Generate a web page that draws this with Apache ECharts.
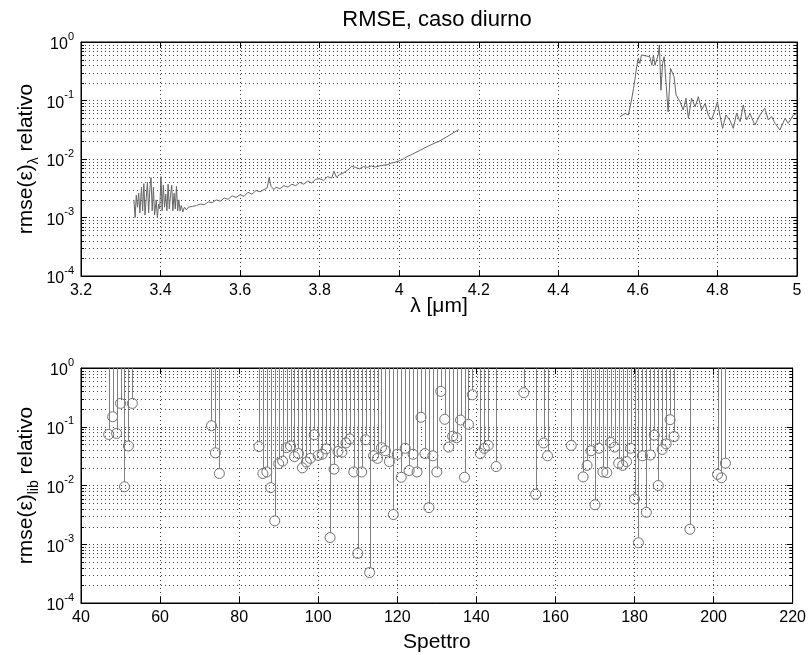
<!DOCTYPE html>
<html>
<head>
<meta charset="utf-8">
<script src="https://cdn.jsdelivr.net/npm/echarts@6/dist/echarts.min.js"></script>
<style>
html,body{margin:0;padding:0;background:#fff;}
#chart{width:809px;height:655px;}
</style>
</head>
<body>
<div id="chart"></div>
<script>
// ---- top panel: rmse per wavelength (two spectral windows) ----
const lambda1 = [3.333,3.336,3.339,3.342,3.345,3.348,3.352,3.355,3.358,3.361,3.364,3.367,3.370,3.373,3.376,3.379,3.382,3.385,3.389,3.392,3.395,3.398,3.401,3.404,3.407,3.410,3.413,3.416,3.419,3.422,3.425,3.428,3.431,3.434,3.437,3.440,3.443,3.446,3.449,3.452,3.456,3.460,3.465,3.470,3.475,3.480,3.485,3.490,3.495,3.500,3.510,3.520,3.530,3.540,3.550,3.560,3.570,3.580,3.590,3.600,3.610,3.620,3.630,3.640,3.650,3.660,3.668,3.673,3.678,3.685,3.690,3.700,3.710,3.720,3.730,3.740,3.750,3.760,3.770,3.780,3.790,3.800,3.810,3.820,3.830,3.836,3.842,3.850,3.860,3.870,3.880,3.885,3.890,3.900,3.910,3.920,3.930,3.940,3.950,3.960,3.970,3.980,3.990,4.000,4.010,4.020,4.030,4.040,4.050,4.060,4.070,4.080,4.090,4.100,4.110,4.120,4.130,4.140,4.150];
const rmse1 = [2.0e-3,1.0e-3,2.4e-3,1.5e-3,2.6e-3,1.2e-3,3.3e-3,1.3e-3,3.8e-3,1.1e-3,2.2e-3,4.0e-3,1.2e-3,3.0e-3,4.8e-3,1.3e-3,3.3e-3,1.1e-3,2.0e-3,1.0e-3,1.7e-3,1.4e-3,5.0e-3,1.3e-3,3.6e-3,1.5e-3,2.5e-3,1.3e-3,3.7e-3,1.4e-3,2.4e-3,3.6e-3,1.3e-3,2.6e-3,1.4e-3,3.4e-3,1.3e-3,2.0e-3,1.3e-3,1.6e-3,1.25e-3,1.5e-3,1.35e-3,1.5e-3,1.4e-3,1.55e-3,1.45e-3,1.6e-3,1.5e-3,1.7e-3,1.65e-3,1.85e-3,1.8e-3,2.0e-3,1.9e-3,2.15e-3,2.05e-3,2.35e-3,2.2e-3,2.45e-3,2.3e-3,2.7e-3,2.5e-3,2.9e-3,2.75e-3,3.0e-3,3.2e-3,4.8e-3,3.4e-3,3.0e-3,3.3e-3,3.1e-3,3.5e-3,3.3e-3,3.7e-3,3.5e-3,4.0e-3,3.7e-3,4.2e-3,3.9e-3,4.5e-3,4.6e-3,4.3e-3,5.0e-3,4.7e-3,6.2e-3,4.9e-3,5.4e-3,5.8e-3,6.4e-3,7.5e-3,8.0e-3,7.2e-3,6.8e-3,7.4e-3,7.2e-3,7.6e-3,7.3e-3,7.6e-3,7.8e-3,8.0e-3,8.5e-3,8.8e-3,9.3e-3,1.0e-2,1.1e-2,1.18e-2,1.28e-2,1.38e-2,1.5e-2,1.62e-2,1.75e-2,1.88e-2,2.0e-2,2.2e-2,2.4e-2,2.65e-2,2.9e-2,3.2e-2];
const lambda2 = [4.555,4.568,4.576,4.584,4.589,4.593,4.597,4.601,4.605,4.609,4.630,4.635,4.639,4.643,4.651,4.654,4.658,4.662,4.666,4.676,4.682,4.691,4.696,4.706,4.714,4.721,4.727,4.735,4.744,4.752,4.760,4.769,4.777,4.785,4.794,4.800,4.806,4.813,4.821,4.831,4.840,4.848,4.857,4.865,4.873,4.882,4.894,4.907,4.919,4.928,4.936,4.945,4.957,4.970,4.978,4.991,5.000];
const rmse2 = [0.053,0.060,0.0565,0.102,0.16,0.24,0.38,0.53,0.43,0.60,0.56,0.40,0.60,0.40,0.60,0.89,0.15,0.43,0.56,0.064,0.355,0.255,0.124,0.095,0.069,0.109,0.0495,0.109,0.078,0.116,0.069,0.089,0.0565,0.0464,0.069,0.095,0.0565,0.0334,0.0565,0.0464,0.0334,0.060,0.0435,0.084,0.0464,0.060,0.038,0.0565,0.074,0.0464,0.053,0.0407,0.0313,0.0495,0.0407,0.0565,0.060];

// ---- bottom panel: rmse per library spectrum ----
const spectra = [47,48,49,50,51,52,53,73,74,75,85,86,87,88,89,90,91,92,93,94,95,96,97,98,99,100,101,102,103,104,105,106,107,108,109,110,111,112,113,114,115,116,117,118,119,120,121,122,123,124,125,126,127,128,129,130,131,132,133,134,135,136,137,138,139,141,142,143,145,152,155,157,158,164,167,168,169,170,171,172,173,174,175,176,177,178,179,180,181,182,183,184,185,186,187,188,189,190,194,201,202,203];
const rmseLib = [0.074,0.148,0.077,0.25,0.0095,0.047,0.25,0.104,0.036,0.016,0.046,0.016,0.017,0.0092,0.0025,0.0235,0.026,0.044,0.047,0.031,0.035,0.020,0.025,0.029,0.073,0.0325,0.034,0.042,0.0013,0.019,0.038,0.037,0.053,0.062,0.017,0.0007,0.017,0.060,0.00033,0.032,0.029,0.044,0.039,0.0255,0.0032,0.034,0.0138,0.043,0.018,0.034,0.017,0.145,0.035,0.0042,0.032,0.017,0.40,0.134,0.045,0.069,0.065,0.13,0.0138,0.11,0.35,0.035,0.043,0.048,0.021,0.38,0.0071,0.053,0.032,0.048,0.014,0.022,0.039,0.0047,0.043,0.017,0.0166,0.054,0.045,0.024,0.022,0.0255,0.043,0.0059,0.00106,0.032,0.0035,0.033,0.072,0.010,0.041,0.051,0.132,0.068,0.0018,0.0155,0.0135,0.024];

// ---- axes / labels ----
const titleText = 'RMSE, caso diurno';
const xName1 = 'λ [μm]';
const xName2 = 'Spettro';
const yRange = [1e-4, 1];
const x1Range = [3.2, 5.0, 0.2];
const x2Range = [40, 220, 20];
const decadeMantissas = [2,3,4,5,6,7,8,9];
const decades = [1e-4,1e-3,1e-2,1e-1];

const FONT = '"Liberation Sans", Arial, Helvetica, sans-serif';
const minorVals = [];
decades.forEach(d => decadeMantissas.forEach(m => minorVals.push(+(d*m).toPrecision(3))));

const chart = echarts.init(document.getElementById('chart'), null, {renderer:'canvas'});

function yLabelFmt(v){
  const e = Math.round(Math.log10(v));
  return '{b|10}{p|' + e + '}';
}
const yLabelRich = {
  b:{fontSize:16, fontFamily:FONT, color:'#000', lineHeight:22, verticalAlign:'bottom'},
  p:{fontSize:11, fontFamily:FONT, color:'#000', lineHeight:11, verticalAlign:'top'}
};
const gridLine = {show:true, lineStyle:{color:'#444', type:[1,3], width:1}};

function xAxisDef(gi, range, pos, labels, name){
  return {
    type:'value', gridIndex:gi, position:pos, min:range[0], max:range[1], interval:range[2],
    axisLine:{show:true, onZero:false, lineStyle:{color:'#000', width:1}},
    axisTick:{show:true, inside:true, length:6, lineStyle:{color:'#000'}},
    axisLabel:{show:labels, color:'#000', fontSize:16, fontFamily:FONT, margin:7},
    splitLine: labels ? gridLine : {show:false},
    name: name || '', nameLocation:'middle', nameGap: gi===0 ? 20 : 29, nameMoveOverlap:false,
    nameTextStyle:{fontSize:21, fontFamily:FONT, color:'#000'}
  };
}
function yAxisDef(gi, pos, labels, nameRich){
  return {
    type:'log', logBase:10, gridIndex:gi, position:pos, min:yRange[0], max:yRange[1], splitNumber:4,
    axisLine:{show:true, onZero:false, lineStyle:{color:'#000', width:1}},
    axisTick:{show:true, inside:true, length:6, lineStyle:{color:'#000'}},
    axisLabel:{show:labels, formatter:yLabelFmt, rich:yLabelRich, margin:7},
    splitLine: labels ? gridLine : {show:false},
    name: nameRich || '', nameLocation:'middle', nameRotate:90, nameGap:40, nameMoveOverlap:false,
    nameTextStyle:{
      fontSize:21, fontFamily:FONT, color:'#000',
      rich:{
        a:{fontSize:21, fontFamily:FONT, color:'#000', lineHeight:30, verticalAlign:'middle'},
        s:{fontSize:14, fontFamily:FONT, color:'#000', lineHeight:14, verticalAlign:'bottom'}
      }
    }
  };
}

function minorSeries(xi, yi, xmin){
  return {
    type:'custom', xAxisIndex:xi, yAxisIndex:yi, silent:true, animation:false, z:1,
    data: minorVals.map(v => [xmin, v]),
    encode:{x:0, y:1},
    renderItem:function(params, api){
      const cs = params.coordSys;
      const y = Math.round(api.coord([api.value(0), api.value(1)])[1]) + 0.5;
      return {type:'group', children:[
        {type:'line', shape:{x1:cs.x, y1:y, x2:cs.x+cs.width, y2:y}, style:{stroke:'#444', lineWidth:1, lineDash:[1,3]}},
        {type:'line', shape:{x1:cs.x, y1:y, x2:cs.x+3, y2:y}, style:{stroke:'#000', lineWidth:1}},
        {type:'line', shape:{x1:cs.x+cs.width-3, y1:y, x2:cs.x+cs.width, y2:y}, style:{stroke:'#000', lineWidth:1}}
      ]};
    }
  };
}

const option = {
  backgroundColor:'#fff',
  animation:false,
  title:{text:titleText, left:432, top:4, textAlign:'center',
    textStyle:{fontSize:22, fontWeight:'normal', fontFamily:FONT, color:'#000'}},
  grid:[
    {left:81, top:42, width:716, height:234, show:true, borderColor:'#000', borderWidth:1, backgroundColor:'#fff'},
    {left:81, top:368, width:716, height:235, show:true, borderColor:'#000', borderWidth:1, backgroundColor:'#fff'}
  ],
  xAxis:[
    xAxisDef(0, x1Range, 'bottom', true, xName1),
    xAxisDef(0, x1Range, 'top', false),
    xAxisDef(1, x2Range, 'bottom', true, xName2),
    xAxisDef(1, x2Range, 'top', false)
  ],
  yAxis:[
    yAxisDef(0, 'left', true, '{a|rmse(ε)}{s|λ}{a| relativo}'),
    yAxisDef(0, 'right', false),
    yAxisDef(1, 'left', true, '{a|rmse(ε)}{s|lib}{a| relativo}'),
    yAxisDef(1, 'right', false)
  ],
  series:[
    minorSeries(0, 0, x1Range[0]),
    minorSeries(2, 2, x2Range[0]),
    {type:'line', xAxisIndex:0, yAxisIndex:0, showSymbol:false, z:5,
      data: lambda1.map((x,i)=>[x, rmse1[i]]),
      lineStyle:{color:'#666', width:1}},
    {type:'line', xAxisIndex:0, yAxisIndex:0, showSymbol:false, z:5,
      data: lambda2.map((x,i)=>[x, rmse2[i]]),
      lineStyle:{color:'#666', width:1}},
    {type:'custom', xAxisIndex:2, yAxisIndex:2, z:5,
      data: spectra.map((s,i)=>[s, rmseLib[i]]),
      encode:{x:0, y:1},
      renderItem:function(params, api){
        const p = api.coord([api.value(0), api.value(1)]);
        const top = api.coord([api.value(0), yRange[1]]);
        const r = 5;
        const x = Math.round(p[0]) + 0.5;
        return {type:'group', children:[
          {type:'line', shape:{x1:x, y1:top[1], x2:x, y2:p[1]-r}, style:{stroke:'#808080', lineWidth:1}},
          {type:'circle', shape:{cx:p[0], cy:p[1], r:r}, style:{fill:null, stroke:'#707070', lineWidth:1}}
        ]};
      }}
  ]
};
chart.setOption(option);
</script>
</body>
</html>
